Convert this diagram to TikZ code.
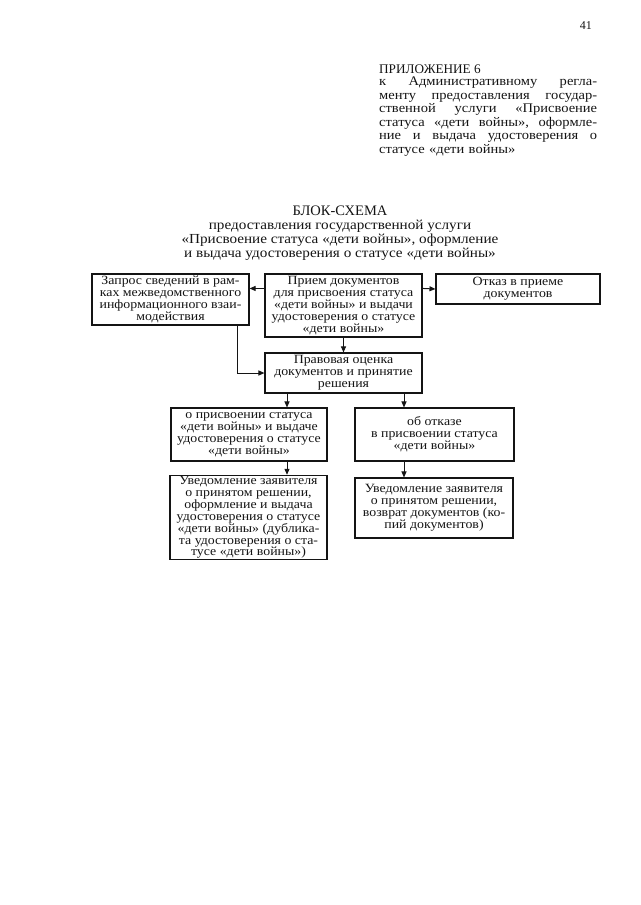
\documentclass[tikz,border=0pt]{standalone}
\usepackage{fontspec}
\setmainfont{Liberation Serif}[FakeStretch=1.1]
\newfontfamily\plainserif{Liberation Serif}
\usepackage{tikz}
\usetikzlibrary{positioning,arrows.meta,calc}
\newcommand{\figbody}{\fontsize{12.6}{11.9}\selectfont}
\newcommand{\fighead}{\fontsize{13.2}{13.6}\selectfont}
\newcommand{\figsub}{\fontsize{13.8}{14}\selectfont}
\newcommand{\figtitle}{\plainserif\fontsize{14.5}{15}\selectfont}
\newcommand{\jline}[1]{\leavevmode\hbox to 218pt{#1}}
\definecolor{bsInk}{RGB}{20,20,20}
\tikzset{
  bsBox/.style={draw=bsInk, line width=1.1pt, align=center,
    font=\figbody, text=bsInk, inner sep=1pt},
  bsFlow/.style={-{Triangle[length=6pt,width=5pt]}, line width=1pt,
    draw=bsInk},
  bsText/.style={font=\fighead, text=bsInk, inner sep=0pt}
}

\begin{document}
\begin{tikzpicture}[x=1pt,y=-1pt]
\useasboundingbox (0,0) rectangle (640,905);
\node[bsText, font=\plainserif\fontsize{12}{12}\selectfont, anchor=base east] (pagenum) at (592,29) {41};
\node[bsText, font=\plainserif\fontsize{13.2}{14}\selectfont, anchor=base west] (annex) at (379,73) {ПРИЛОЖЕНИЕ 6};
\node[bsText, anchor=north west, align=left, text width=218pt] (annextext) at (379,76.5) {%
\jline{к\hfill Административному\hfill регла-}\\
\jline{менту\hfill предоставления\hfill государ-}\\
\jline{ственной\hfill услуги\hfill «Присвоение}\\
\jline{статуса\hfill «дети\hfill войны»,\hfill оформле-}\\
\jline{ние\hfill и\hfill выдача\hfill удостоверения\hfill о}\\
статусе «дети войны»};
\node[bsText, font=\figtitle, anchor=base] (title) at (340,215) {БЛОК-СХЕМА};
\node[bsText, font=\figsub, anchor=north, align=center] (subtitle) at (340,220)
  {предоставления государственной услуги\\
   «Присвоение статуса «дети войны», оформление\\
   и выдача удостоверения о статусе «дети войны»};
% boxes
\node[bsBox, minimum width=157pt, minimum height=51pt] (zapros) at (170.5,299.5)
  {Запрос сведений в рам-\\ках межведомственного\\информационного взаи-\\модействия};
\node[bsBox, minimum width=157pt, minimum height=63pt] (priem) at (343.5,305.5)
  {Прием документов\\для присвоения статуса\\«дети войны» и выдачи\\удостоверения о статусе\\«дети войны»};
\node[bsBox, minimum width=164pt, minimum height=30pt] (otkaz) at (518,289)
  {Отказ в приеме\\документов};
\node[bsBox, minimum width=157pt, minimum height=40pt] (ocenka) at (343.5,373)
  {Правовая оценка\\документов и принятие\\решения};
\node[bsBox, minimum width=156pt, minimum height=53pt] (prisv) at (249,434.5)
  {о присвоении статуса\\«дети войны» и выдаче\\удостоверения о статусе\\«дети войны»};
\node[bsBox, minimum width=159pt, minimum height=53pt] (otkazpr) at (434.5,434.5)
  {об отказе\\в присвоении статуса\\«дети войны»};
\node[bsBox, minimum width=157pt, minimum height=83pt] (uvedA) at (248.5,517.5)
  {Уведомление заявителя\\о принятом решении,\\оформление и выдача\\удостоверения о статусе\\«дети войны» (дублика-\\та удостоверения о ста-\\тусе «дети войны»)};
\node[bsBox, minimum width=158pt, minimum height=60pt] (uvedB) at (434,508)
  {Уведомление заявителя\\о принятом решении,\\возврат документов (ко-\\пий документов)};
% connectors
\coordinate (colA) at (287,0);
\coordinate (colB) at (404,0);
\draw[bsFlow] ([yshift=-15pt]priem.north west) -- ([yshift=-15pt]zapros.north east);
\draw[bsFlow] ([yshift=-15pt]priem.north east) -- (otkaz.west);
\draw[bsFlow] (priem.south) -- (ocenka.north);
\draw[bsFlow] ([xshift=66.5pt]zapros.south) |- (ocenka.west);
\draw[bsFlow] (ocenka.south -| colA) -- (prisv.north -| colA);
\draw[bsFlow] (ocenka.south -| colB) -- (otkazpr.north -| colB);
\draw[bsFlow] (prisv.south -| colA) -- (uvedA.north -| colA);
\draw[bsFlow] (otkazpr.south -| colB) -- (uvedB.north -| colB);
\end{tikzpicture}
\end{document}
